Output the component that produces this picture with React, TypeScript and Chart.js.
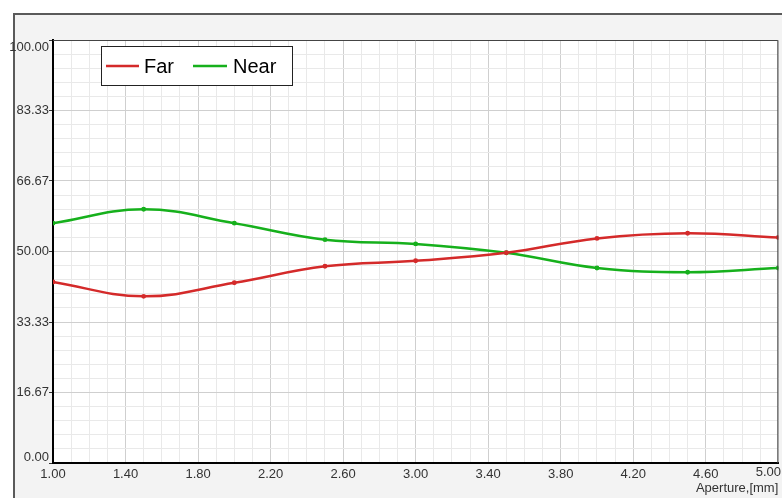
import React, { useEffect, useRef } from 'react';
import { Chart, registerables } from 'chart.js';

Chart.register(...registerables);

const apertures = [1.0, 1.5, 2.0, 2.5, 3.0, 3.5, 4.0, 4.5, 5.0];
const farValues = [42.8, 39.4, 42.6, 46.5, 47.8, 49.7, 53.1, 54.3, 53.3];
const nearValues = [56.7, 60.0, 56.7, 52.8, 51.8, 49.7, 46.1, 45.1, 46.1];
const xTickLabels = ['1.00', '1.40', '1.80', '2.20', '2.60', '3.00', '3.40', '3.80', '4.20', '4.60', '5.00'];
const yTickLabels = ['0.00', '16.67', '33.33', '50.00', '66.67', '83.33', '100.00'];
const seriesNames = ['Far', 'Near'];
const seriesColors = ['#d42a2a', '#16b01c'];
const xTitle = 'Aperture,[mm]';

const X_MIN = 1, X_MAX = 5, X_MINOR = 0.1, X_MAJOR_EVERY = 4;
const Y_MIN = 0, Y_MAX = 100, Y_MINOR = 100 / 30, Y_MAJOR_EVERY = 5;
const FONT_FAMILY = 'Arial, "Liberation Sans", sans-serif';

const framePlugin = {
  id: 'frame',
  beforeDraw(chart: any) {
    const { ctx, width, height, chartArea } = chart;
    ctx.save();
    ctx.fillStyle = '#ffffff';
    ctx.fillRect(0, 0, width, height);
    ctx.fillStyle = '#f3f3f3';
    ctx.fillRect(14, 14, width - 14, height - 14);
    ctx.strokeStyle = '#5a5a5a';
    ctx.lineWidth = 2;
    ctx.beginPath();
    ctx.moveTo(14, height);
    ctx.lineTo(14, 14);
    ctx.lineTo(width, 14);
    ctx.stroke();
    ctx.fillStyle = '#ffffff';
    ctx.fillRect(chartArea.left, chartArea.top, chartArea.right - chartArea.left, chartArea.bottom - chartArea.top);
    ctx.restore();
  },
  afterDraw(chart: any) {
    const { ctx, chartArea, width } = chart;
    const xs = chart.scales.x;
    const ys = chart.scales.y;
    ctx.save();
    ctx.strokeStyle = '#444';
    ctx.lineWidth = 1;
    ctx.beginPath();
    ctx.moveTo(chartArea.left, chartArea.top + 0.5);
    ctx.lineTo(chartArea.right - 0.5, chartArea.top + 0.5);
    ctx.lineTo(chartArea.right - 0.5, chartArea.bottom);
    ctx.stroke();

    // end tick labels, kept inside the frame as in the original
    ctx.font = `13px ${FONT_FAMILY}`;
    ctx.fillStyle = '#333';
    ctx.textAlign = 'right';
    ctx.textBaseline = 'middle';
    const yLabelX = ys.right - 4;
    ctx.fillText(yTickLabels[yTickLabels.length - 1], yLabelX, Math.max(ys.getPixelForValue(Y_MAX), chartArea.top + 7));
    ctx.fillText(yTickLabels[0], yLabelX, Math.min(ys.getPixelForValue(Y_MIN), chartArea.bottom - 6));
    ctx.textBaseline = 'top';
    const lastX = xTickLabels[xTickLabels.length - 1];
    const lw = ctx.measureText(lastX).width;
    ctx.textAlign = 'left';
    ctx.fillText(lastX, Math.min(xs.getPixelForValue(X_MAX) - lw / 2, width - lw - 1), xs.top + 3);

    // legend box
    const bx = 101, by = 46, bw = 191, bh = 39;
    ctx.fillStyle = '#ffffff';
    ctx.fillRect(bx, by, bw, bh);
    ctx.strokeStyle = '#222';
    ctx.lineWidth = 1;
    ctx.strokeRect(bx + 0.5, by + 0.5, bw, bh);
    ctx.font = `20px ${FONT_FAMILY}`;
    ctx.textBaseline = 'middle';
    ctx.textAlign = 'left';
    const items = [
      { x1: 106, x2: 139, tx: 144 },
      { x1: 193, x2: 227, tx: 233 },
    ];
    items.forEach((it, i) => {
      ctx.strokeStyle = seriesColors[i];
      ctx.lineWidth = 2.5;
      ctx.beginPath();
      ctx.moveTo(it.x1, by + 20);
      ctx.lineTo(it.x2, by + 20);
      ctx.stroke();
      ctx.fillStyle = '#000';
      ctx.fillText(seriesNames[i], it.tx, by + 21);
    });
    ctx.restore();
  },
};

export default function App() {
  const ref = useRef<HTMLCanvasElement | null>(null);

  useEffect(() => {
    if (!ref.current) return;
    const font = { family: FONT_FAMILY, size: 13 };
    const xMajorCount = xTickLabels.length - 1;
    const yMajorCount = yTickLabels.length - 1;
    const chart = new Chart(ref.current, {
      type: 'line',
      data: {
        datasets: [farValues, nearValues].map((vals, i) => ({
          label: seriesNames[i],
          data: apertures.map((x, j) => ({ x, y: vals[j] })),
          borderColor: seriesColors[i],
          backgroundColor: seriesColors[i],
          borderWidth: 2.5,
          pointRadius: 1.2,
          pointHoverRadius: 1.2,
          tension: 0.4,
          fill: false,
        })),
      },
      options: {
        animation: false,
        responsive: false,
        maintainAspectRatio: false,
        events: [],
        layout: { padding: { left: 0, top: 40, right: 3, bottom: 0 } },
        plugins: { legend: { display: false }, tooltip: { enabled: false } },
        scales: {
          x: {
            type: 'linear',
            min: X_MIN,
            max: X_MAX,
            afterBuildTicks: (scale: any) => {
              const n = Math.round((X_MAX - X_MIN) / X_MINOR);
              scale.ticks = Array.from({ length: n + 1 }, (_, i) => ({ value: X_MIN + i * X_MINOR }));
            },
            afterFit: (scale: any) => {
              scale.height = 35;
              scale.paddingLeft = 0;
              scale.paddingRight = 0;
            },
            ticks: {
              autoSkip: false,
              maxRotation: 0,
              padding: 1,
              color: '#333',
              font,
              callback: (_v: any, i: number) => {
                if (i % X_MAJOR_EVERY !== 0) return '';
                const k = i / X_MAJOR_EVERY;
                return k === xMajorCount ? '' : xTickLabels[k];
              },
            },
            grid: {
              color: (c: any) => (c.index % X_MAJOR_EVERY === 0 ? '#cfcfcf' : '#e9e9e9'),
              tickColor: 'transparent',
              tickLength: 3,
            },
            border: { color: '#000', width: 2 },
            title: {
              display: true,
              text: xTitle,
              align: 'end',
              color: '#333',
              font,
              padding: { top: 0, bottom: 2 },
            },
          },
          y: {
            type: 'linear',
            min: Y_MIN,
            max: Y_MAX,
            afterBuildTicks: (scale: any) => {
              const n = Math.round((Y_MAX - Y_MIN) / Y_MINOR);
              scale.ticks = Array.from({ length: n + 1 }, (_, i) => ({ value: Y_MIN + i * Y_MINOR }));
            },
            afterFit: (scale: any) => {
              scale.width = 53;
              scale.paddingTop = 0;
              scale.paddingBottom = 0;
            },
            ticks: {
              autoSkip: false,
              padding: 0,
              color: '#333',
              font,
              callback: (_v: any, i: number) => {
                if (i % Y_MAJOR_EVERY !== 0) return '';
                const k = i / Y_MAJOR_EVERY;
                return k === 0 || k === yMajorCount ? '' : yTickLabels[k];
              },
            },
            grid: {
              color: (c: any) => (c.index % Y_MAJOR_EVERY === 0 ? '#cfcfcf' : '#e9e9e9'),
              tickColor: (c: any) => (c.index % Y_MAJOR_EVERY === 0 ? '#333' : 'transparent'),
              tickLength: 4,
            },
            border: { color: '#000', width: 2 },
          },
        },
      },
      plugins: [framePlugin],
    } as any);
    return () => chart.destroy();
  }, []);

  return (
    <div style={{ position: 'fixed', left: 0, top: 0, width: 782, height: 498, background: '#fff' }}>
      <canvas ref={ref} width={782} height={498} style={{ width: 782, height: 498, display: 'block' }} />
    </div>
  );
}
